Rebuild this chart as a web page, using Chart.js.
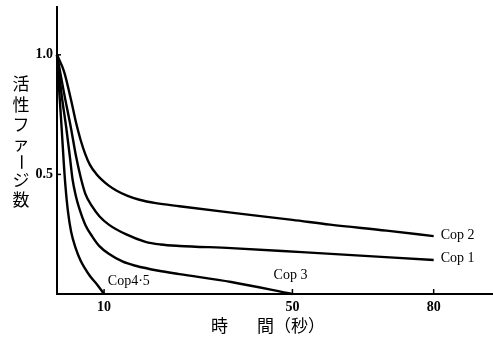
<!DOCTYPE html>
<html><head><meta charset="utf-8">
<script src="https://cdn.jsdelivr.net/npm/chart.js@4/dist/chart.umd.min.js"></script>
<style>html,body{margin:0;padding:0;background:#fff;}canvas{display:block}</style>
</head><body>
<canvas id="c" width="493" height="339"></canvas>
<script>
// ---- data ----
const cop2X = [0, 1.5, 3, 4, 5, 6, 7, 8.3, 9.6, 11, 12.5, 15, 17.5, 21, 26, 37, 50, 58, 70, 80];
const cop2Y = [1.0, 0.93, 0.81, 0.72, 0.645, 0.585, 0.54, 0.503, 0.476, 0.453, 0.434, 0.41, 0.394, 0.38, 0.367, 0.34, 0.31, 0.29, 0.265, 0.242];
const cop1X = [0, 1.5, 3, 4, 5, 6, 7.5, 9, 11, 14.6, 18.8, 22, 26, 37, 52, 80];
const cop1Y = [1.0, 0.84, 0.69, 0.58, 0.49, 0.42, 0.365, 0.325, 0.29, 0.25, 0.218, 0.207, 0.201, 0.192, 0.175, 0.142];
const cop3X = [0, 1, 2, 2.7, 3.3, 4, 4.7, 6, 7.5, 9, 11, 14, 16.7, 21.6, 26, 37, 50];
const cop3Y = [1.0, 0.83, 0.69, 0.58, 0.48, 0.41, 0.36, 0.29, 0.24, 0.2, 0.168, 0.135, 0.118, 0.097, 0.083, 0.05, 0.0];
const cop45X = [0, 0.5, 1, 1.4, 1.8, 2.3, 3, 4, 5, 6, 7, 8.5, 10];
const cop45Y = [1.0, 0.84, 0.69, 0.56, 0.45, 0.35, 0.26, 0.19, 0.14, 0.105, 0.075, 0.04, 0.0];
const seriesNames = ['Cop 2', 'Cop 1', 'Cop 3', 'Cop4·5'];
const xTicks = [10, 50, 80];
const xTickLabels = ['10', '50', '80'];
const yTicks = [0.5, 1.0];
const yTickLabels = ['0.5', '1.0'];
const yTitleChars = ['活', '性', 'フ', 'ァ', 'ー', 'ジ', '数'];
const xTitle = ['時', '間（秒）'];

const toPts = (xs, ys) => xs.map((x, i) => ({x: x, y: ys[i]}));
const series = [[cop2X, cop2Y], [cop1X, cop1Y], [cop3X, cop3Y], [cop45X, cop45Y]];
// label anchors (data units) for the series names
const labelAnchors = [[81.5, 0.245], [81.5, 0.15], [46, 0.08], [10.8, 0.055]];

const deco = {
  id: 'deco',
  afterDraw(chart) {
    const ctx = chart.ctx, xs = chart.scales.x, ys = chart.scales.y;
    const ca = chart.chartArea;
    ctx.save();
    ctx.fillStyle = '#000'; ctx.strokeStyle = '#000';
    // tick marks
    ctx.lineWidth = 1.5;
    xTicks.forEach(v => {
      const px = xs.getPixelForValue(v);
      ctx.beginPath(); ctx.moveTo(px, ca.bottom); ctx.lineTo(px, ca.bottom - 5); ctx.stroke();
    });
    yTicks.forEach(v => {
      const py = ys.getPixelForValue(v);
      ctx.beginPath(); ctx.moveTo(ca.left, py); ctx.lineTo(ca.left + 4, py); ctx.stroke();
    });
    // tick labels
    ctx.font = 'bold 14px "Liberation Serif"';
    ctx.textAlign = 'center'; ctx.textBaseline = 'middle';
    xTicks.forEach((v, i) => ctx.fillText(xTickLabels[i], xs.getPixelForValue(v), ca.bottom + 13));
    ctx.textAlign = 'right';
    yTicks.forEach((v, i) => ctx.fillText(yTickLabels[i], ca.left - 4, ys.getPixelForValue(v)));
    // series labels
    ctx.font = '14px "Liberation Serif"';
    ctx.textAlign = 'left';
    labelAnchors.forEach((a, i) => ctx.fillText(seriesNames[i], xs.getPixelForValue(a[0]), ys.getPixelForValue(a[1])));
    // y title (vertical)
    ctx.font = '17px "Noto Sans CJK JP"';
    ctx.textAlign = 'center';
    const yc = [84, 105, 125, 144, 162, 180, 200];
    yTitleChars.forEach((ch, i) => {
      if (ch === 'ー') {
        ctx.save(); ctx.translate(21, yc[i]); ctx.rotate(Math.PI / 2);
        ctx.fillText(ch, 0, 0); ctx.restore();
      } else {
        ctx.fillText(ch, 21, yc[i]);
      }
    });
    // x title
    ctx.textAlign = 'left';
    ctx.fillText(xTitle[0], 211, 326);
    ctx.fillText(xTitle[1], 257, 326);
    ctx.restore();
  }
};

new Chart(document.getElementById('c'), {
  type: 'line',
  data: {
    datasets: series.map((s, i) => ({
      label: seriesNames[i],
      data: toPts(s[0], s[1]),
      borderColor: '#000',
      borderWidth: 2.4,
      pointRadius: 0,
      fill: false,
      cubicInterpolationMode: 'monotone',
      clip: false
    }))
  },
  options: {
    responsive: false, animation: false, devicePixelRatio: 1,
    layout: {padding: {left: 57, right: 0, top: 7, bottom: 45}},
    plugins: {legend: {display: false}, tooltip: {enabled: false}},
    scales: {
      x: {
        type: 'linear', min: 0, max: 92.6,
        grid: {display: false, drawTicks: false, tickLength: 0},
        border: {display: true, color: '#000', width: 2},
        ticks: {display: false, padding: 0},
        afterBuildTicks: s => { s.ticks = xTicks.map(v => ({value: v})); }
      },
      y: {
        type: 'linear', min: 0, max: 1.2,
        grid: {display: false, drawTicks: false, tickLength: 0},
        border: {display: true, color: '#000', width: 2},
        ticks: {display: false, padding: 0},
        afterBuildTicks: s => { s.ticks = yTicks.map(v => ({value: v})); }
      }
    }
  },
  plugins: [deco]
});
</script>
</body></html>
